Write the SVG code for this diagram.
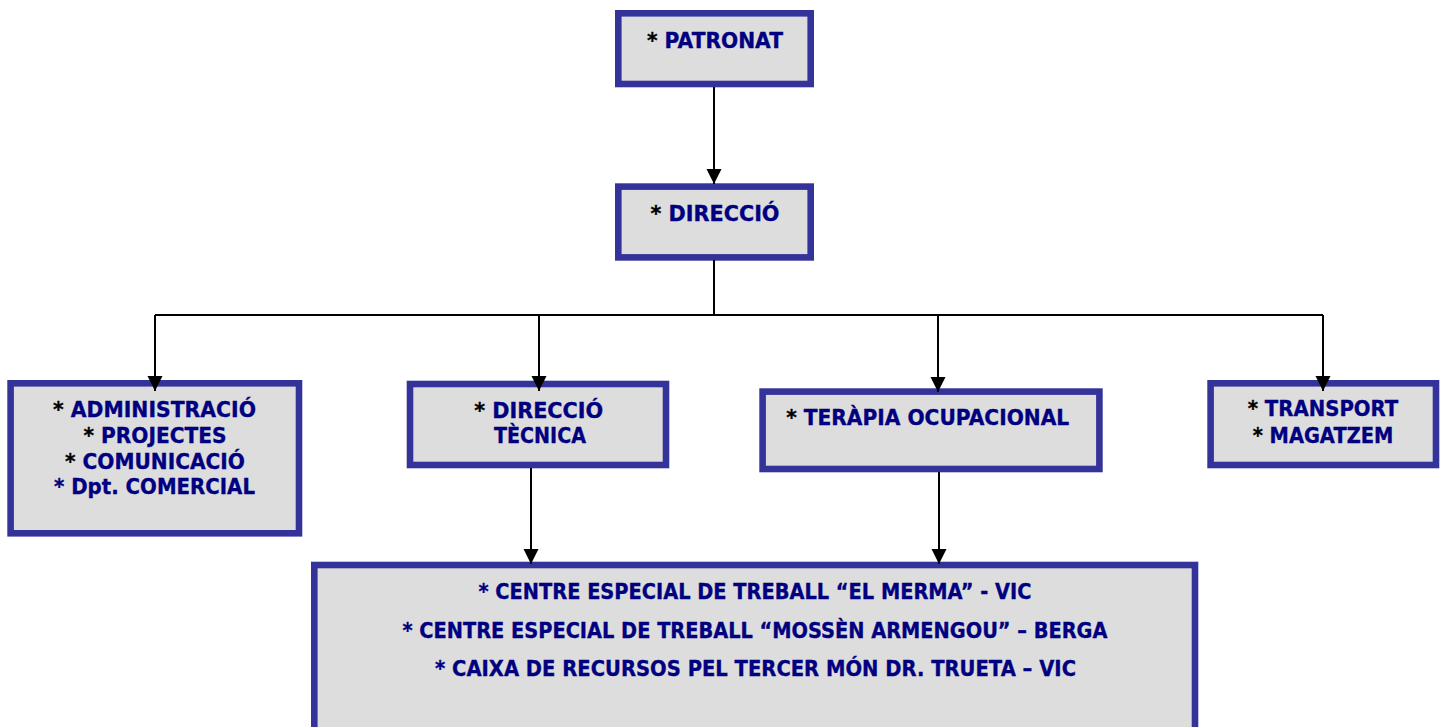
<svg xmlns="http://www.w3.org/2000/svg" width="1442" height="727" viewBox="0 0 1442 727">
<style>
.box{fill:#DDDDDD;stroke:#333399;stroke-width:6.6}
.t{font-family:"DejaVu Sans","Verdana",sans-serif;font-weight:bold;font-size:21px;fill:#000080;text-anchor:middle;stroke:#000080;stroke-width:0.35}
.k{fill:#000000;stroke:#000000}
.c{fill:none;stroke:#000000;stroke-width:2}
</style>
<defs>
<marker id="arr" markerUnits="userSpaceOnUse" markerWidth="16" markerHeight="16" refX="15" refY="7.5" orient="auto">
<path d="M0,0 L15,7.5 L0,15 z" fill="#000000"/>
</marker>
</defs>
<g id="patronat">
<rect class="box" x="618.3" y="13.3" width="192.4" height="70.7"/>
<text class="t" x="715" y="48" textLength="136" lengthAdjust="spacingAndGlyphs"><tspan class="k">*</tspan> PATRONAT</text>
</g>
<g id="direccio">
<rect class="box" x="618.3" y="186.6" width="192.4" height="70.8"/>
<text class="t" x="715" y="221" textLength="129" lengthAdjust="spacingAndGlyphs"><tspan class="k">*</tspan> DIRECCIÓ</text>
</g>
<g id="administracio">
<rect class="box" x="10.6" y="383.3" width="288.4" height="150"/>
<text class="t" x="154.5" y="417" textLength="203" lengthAdjust="spacingAndGlyphs"><tspan class="k">*</tspan> ADMINISTRACIÓ</text>
<text class="t" x="155" y="443" textLength="143" lengthAdjust="spacingAndGlyphs"><tspan class="k">*</tspan> PROJECTES</text>
<text class="t" x="155" y="469" textLength="180" lengthAdjust="spacingAndGlyphs"><tspan class="k">*</tspan> COMUNICACIÓ</text>
<text class="t" x="154.5" y="494" textLength="201" lengthAdjust="spacingAndGlyphs">* Dpt. COMERCIAL</text>
</g>
<g id="direccio-tecnica">
<rect class="box" x="410" y="384" width="256" height="81"/>
<text class="t" x="538.7" y="417.5" textLength="129" lengthAdjust="spacingAndGlyphs"><tspan class="k">*</tspan> DIRECCIÓ</text>
<text class="t" x="540" y="442.7" textLength="92" lengthAdjust="spacingAndGlyphs">TÈCNICA</text>
</g>
<g id="terapia">
<rect class="box" x="762.6" y="391.6" width="336.8" height="77.4"/>
<text class="t" x="927.7" y="425" textLength="283" lengthAdjust="spacingAndGlyphs"><tspan class="k">*</tspan> TERÀPIA OCUPACIONAL</text>
</g>
<g id="transport">
<rect class="box" x="1210.6" y="383.3" width="225.4" height="81.7"/>
<text class="t" x="1323" y="415.7" textLength="150.6" lengthAdjust="spacingAndGlyphs"><tspan class="k">*</tspan> TRANSPORT</text>
<text class="t" x="1323" y="442.7" textLength="140.6" lengthAdjust="spacingAndGlyphs"><tspan class="k">*</tspan> MAGATZEM</text>
</g>
<g id="centres">
<rect class="box" x="314.3" y="565" width="880.7" height="200"/>
<text class="t" x="755" y="599.3" textLength="553" lengthAdjust="spacingAndGlyphs">* CENTRE ESPECIAL DE TREBALL “EL MERMA” - VIC</text>
<text class="t" x="755" y="637.7" textLength="705" lengthAdjust="spacingAndGlyphs">* CENTRE ESPECIAL DE TREBALL “MOSSÈN ARMENGOU” – BERGA</text>
<text class="t" x="755.5" y="676" textLength="641" lengthAdjust="spacingAndGlyphs">* CAIXA DE RECURSOS PEL TERCER MÓN DR. TRUETA – VIC</text>
</g>
<g id="connectors">
<line class="c" x1="714" y1="87" x2="714" y2="184" marker-end="url(#arr)"/>
<polyline class="c" points="714,260 714,315"/>
<polyline class="c" points="155,315 1323,315"/>
<line class="c" x1="155" y1="315" x2="155" y2="391" marker-end="url(#arr)"/>
<line class="c" x1="539" y1="315" x2="539" y2="391" marker-end="url(#arr)"/>
<line class="c" x1="938" y1="315" x2="938" y2="392" marker-end="url(#arr)"/>
<line class="c" x1="1323" y1="315" x2="1323" y2="391" marker-end="url(#arr)"/>
<line class="c" x1="531" y1="468" x2="531" y2="564" marker-end="url(#arr)"/>
<line class="c" x1="939" y1="472" x2="939" y2="564" marker-end="url(#arr)"/>
</g>
</svg>
